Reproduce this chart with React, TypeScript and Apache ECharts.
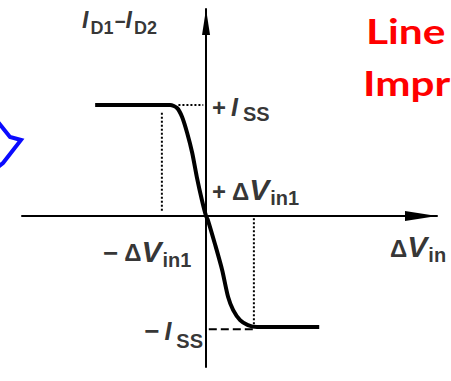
import { useEffect, useRef } from "react";
import * as echarts from "echarts";

// Differential-pair transfer curve, normalised: x in units of ΔV_in1, y in units of I_SS
const curveX = [-2.41, -0.78, -0.63, -0.52, -0.41, -0.3, -0.2, -0.09, 0, 0.04, 0.2, 0.35, 0.48, 0.59, 0.74, 0.91, 1.11, 2.46];
const curveY = [1, 1, 0.973, 0.892, 0.748, 0.568, 0.351, 0.144, 0, -0.036, -0.261, -0.486, -0.73, -0.847, -0.937, -0.982, -1, -1];

// Dotted / dashed guide segments, [x0, y0, x1, y1]
const guideUpperH = [-0.6, 1, -0.06, 1];
const guideUpperV = [-0.96, 0.93, -0.96, 0.03];
const guideLowerV = [1.04, -0.02, 1.04, -0.98];
const guideLowerH = [0.06, -1.02, 1.04, -1.02];

// Axis extents
const xRange = [-4, 5.02];
const yRange = [-1.36, 1.865];

// Annotation anchors (data coords)
const labelISSPos = [0, 1];
const labelISSNeg = [0, -1];
const labelDVPos = [0, 0];
const labelDVNeg = [-1, 0];
const labelXName = [4, 0];
const labelYName = [0, 1.865];

const ink = "#000";
const font = "Liberation Sans";

// Each token sits on a shared baseline: padding-top = baseline - 0.8465 * fontSize
function tok(size: number, baseline: number, italic = false, left = 0) {
  return {
    fontFamily: font,
    fontSize: size,
    fontWeight: "bold",
    fontStyle: italic ? "italic" : "normal",
    color: ink,
    lineHeight: size,
    verticalAlign: "top",
    padding: [Math.max(0, baseline - 0.8465 * size), 0, 0, left],
  };
}

const rich = {
  p: tok(24, 28),
  m: tok(26, 28),
  d: tok(24, 28, false, 6),
  D: tok(24, 27, false, 6),
  v: tok(30, 28, true),
  i: tok(25, 28, true, 5),
  s: tok(20, 33, false, 1),
  S: tok(20, 33, false, 5),
  S2: tok(20, 36, false, 5),
  y: tok(23, 21, true),
  yd: tok(18, 27, false, 2),
  ym: tok(19, 21, false, 1),
};

function seg(g: number[]) {
  return [
    [g[0], g[1]],
    [g[2], g[3]],
  ];
}

function note(pos: number[], text: string, offset: number[], align = "left") {
  return {
    value: pos,
    label: {
      show: true,
      position: offset,
      align,
      verticalAlign: "top",
      color: ink,
      formatter: text,
      rich,
    },
  };
}

export default function App() {
  const ref = useRef<HTMLDivElement>(null);

  useEffect(() => {
    if (!ref.current) return;
    const chart = echarts.init(ref.current, null, { renderer: "svg" });

    const axisLine = (size: number[]) => ({
      onZero: true,
      symbol: ["none", "triangle"],
      symbolSize: size,
      symbolOffset: [0, -size[1] / 2],
      lineStyle: { color: ink, width: 2 },
    });

    const guide = (g: number[], type: string) => ({
      type: "line",
      data: seg(g),
      showSymbol: false,
      silent: true,
      lineStyle: { color: ink, width: 2, type, dashOffset: 0 },
      z: 1,
    });

    chart.setOption({
      animation: false,
      backgroundColor: "#fff",
      grid: { left: 22, right: 14, top: 9, bottom: 14, containLabel: false },
      xAxis: {
        type: "value",
        min: xRange[0],
        max: xRange[1],
        axisLine: axisLine([10, 32]),
        axisTick: { show: false },
        axisLabel: { show: false },
        splitLine: { show: false },
      },
      yAxis: {
        type: "value",
        min: yRange[0],
        max: yRange[1],
        axisLine: axisLine([8, 26]),
        axisTick: { show: false },
        axisLabel: { show: false },
        splitLine: { show: false },
      },
      series: [
        {
          type: "line",
          data: curveX.map((x, k) => [x, curveY[k]]),
          smooth: 0.25,
          showSymbol: false,
          lineStyle: { color: ink, width: 4 },
          z: 3,
        },
        guide(guideUpperH, "dotted"),
        guide(guideUpperV, "dotted"),
        guide(guideLowerV, "dotted"),
        guide(guideLowerH, "dashed"),
        {
          type: "scatter",
          symbolSize: 0,
          itemStyle: { color: "transparent" },
          silent: true,
          z: 4,
          data: [
            note(labelISSPos, "{p|+}{i|I}{S|SS}", [6, -17]),
            note(labelDVPos, "{p|+}{d|Δ}{v|V}{s|in1}", [6, -44]),
            note(labelDVNeg, "{m|−}{D|Δ}{v|V}{s|in1}", [-57, 18]),
            note(labelISSNeg, "{m|−}{i|I}{S2|SS}", [-3, -15], "right"),
            note(labelXName, "{d|Δ}{v|V}{s|in}", [-6, 13]),
            note(labelYName, "{y|I}{yd|D1}{ym|−}{y|I}{yd|D2}", [-124, -2]),
          ],
        },
      ],
      graphic: [
        {
          type: "polyline",
          shape: { points: [[-2, 122], [10, 137], [21, 140], [3, 163], [-2, 167]] },
          style: { stroke: "#0b0bff", lineWidth: 4, fill: "none", lineJoin: "miter" },
        },
        {
          type: "text",
          x: 366,
          y: 14,
          scaleX: 1.25,
          style: { text: "Line", font: "bold 34px Lato", fill: "#ff0000" },
        },
        {
          type: "text",
          x: 363,
          y: 66,
          scaleX: 1.24,
          style: { text: "Impr", font: "bold 34px Lato", fill: "#ff0000" },
        },
      ],
    });

    return () => chart.dispose();
  }, []);

  return (
    <div
      ref={ref}
      style={{ position: "fixed", left: 0, top: 0, width: 451, height: 381, background: "#fff" }}
    />
  );
}
